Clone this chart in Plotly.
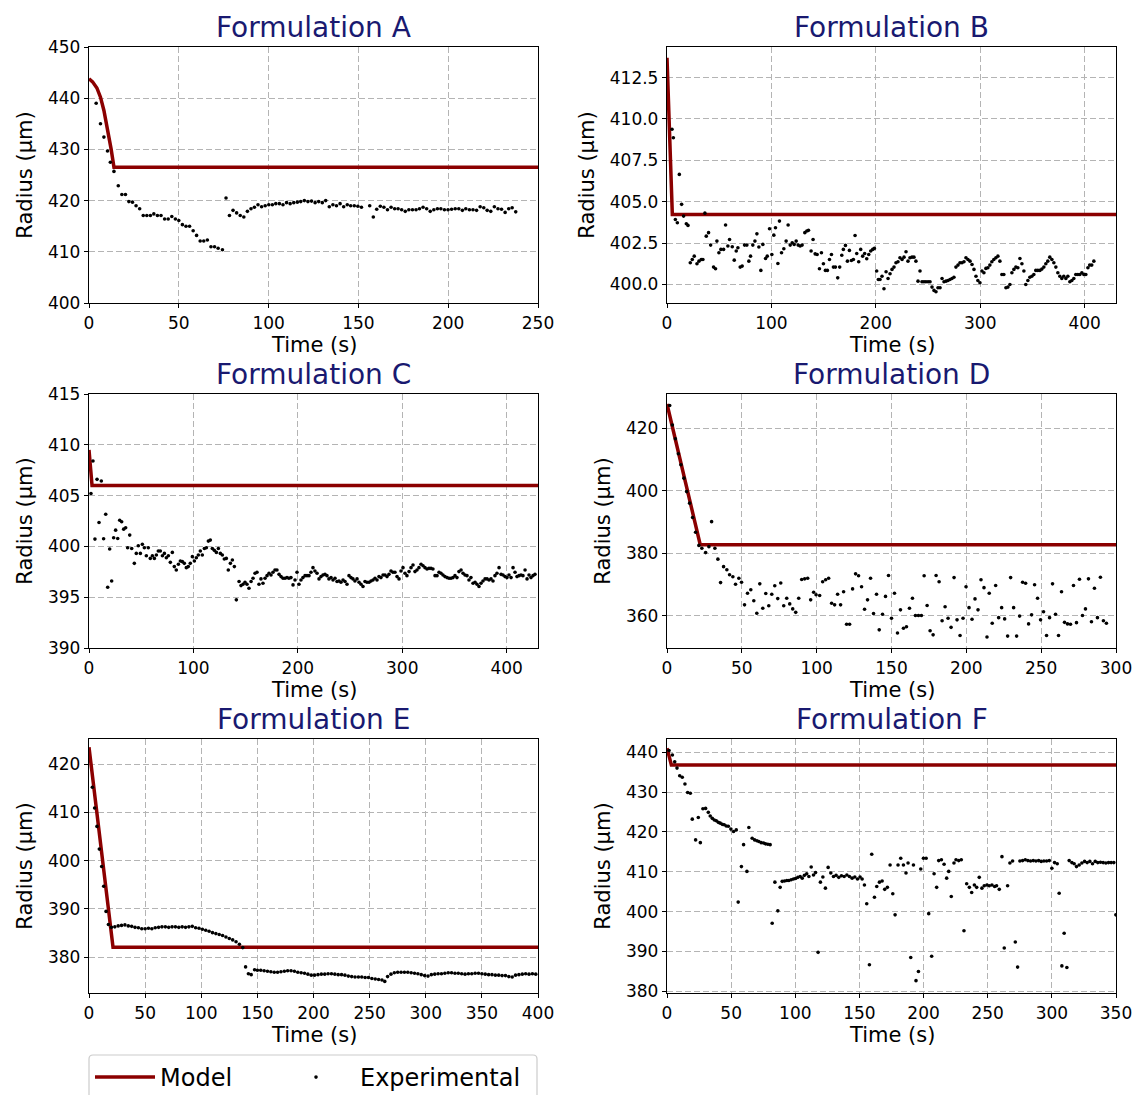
import plotly.graph_objects as go

# ---------------- data ----------------
A_time = [4.0, 6.4, 8.3, 10.3, 11.9, 13.9, 16.3, 18.3, 20.3, 22.2,
          24.2, 26.2, 28.2, 30.2, 32.2, 34.2, 36.1, 38.1, 40.1, 42.1,
          44.1, 46.1, 48.1, 50.0, 52.0, 54.0, 56.0, 58.0, 59.9, 61.9,
          63.9, 65.9, 67.9, 69.9, 71.9, 74.3, 76.3, 78.2, 80.2, 82.2,
          84.2, 86.2, 88.2, 90.2, 92.1, 94.1, 96.1, 98.1, 100.1, 102.1,
          104.0, 106.0, 108.0, 110.0, 112.0, 114.0, 116.0, 117.9, 119.9, 121.9,
          123.9, 125.9, 127.9, 129.9, 131.8, 133.8, 135.8, 137.8, 139.8, 141.8,
          143.8, 145.7, 147.7, 149.7, 151.7, 156.3, 158.3, 160.2, 162.2, 164.2,
          166.2, 168.2, 170.2, 172.1, 174.1, 176.1, 178.1, 180.1, 182.1, 184.0,
          186.0, 188.0, 190.0, 192.0, 194.0, 195.9, 197.9, 199.9, 201.9, 203.9,
          205.9, 207.9, 209.8, 211.8, 213.8, 215.8, 217.8, 219.8, 221.7, 223.7,
          225.7, 227.7, 229.7, 231.7, 233.7, 235.6, 237.6]
A_radius = [439.0, 435.0, 432.4, 429.7, 427.5, 425.7, 422.9, 421.2, 421.2, 419.8,
            419.7, 419.0, 418.4, 417.1, 417.1, 417.1, 417.4, 417.1, 417.1, 416.4,
            416.4, 416.9, 416.4, 416.1, 415.3, 415.0, 415.0, 414.1, 413.2, 412.1,
            412.1, 412.3, 411.0, 411.0, 410.7, 410.4, 420.5, 417.1, 418.1, 417.6,
            417.1, 416.8, 417.9, 418.4, 418.7, 419.2, 418.8, 419.0, 419.2, 419.2,
            419.4, 419.4, 419.2, 419.6, 419.4, 419.6, 419.7, 419.8, 420.0, 419.8,
            419.9, 419.6, 419.8, 419.6, 420.0, 418.8, 419.2, 419.0, 419.4, 418.8,
            419.2, 419.0, 419.0, 418.9, 418.7, 419.0, 416.8, 418.3, 418.9, 418.7,
            418.2, 418.7, 418.4, 418.4, 418.2, 417.9, 418.2, 418.2, 418.2, 418.4,
            418.7, 418.4, 417.9, 418.2, 418.4, 418.4, 418.2, 418.2, 418.3, 418.4,
            418.4, 418.1, 418.4, 418.2, 418.2, 418.1, 418.8, 418.6, 418.1, 417.9,
            418.8, 418.4, 418.3, 417.7, 418.4, 418.6, 417.8]
A_model_time = [0, 2.0, 4.4, 6.4, 8.3, 10.3, 12.3, 13.9, 250]
A_model_radius = [443.8, 443.2, 442.0, 440.2, 437.6, 434.0, 430.1, 426.5, 426.5]

B_time = [4.8, 6.1, 8.0, 9.9, 11.8, 14.0, 15.9, 18.5, 20.1, 22.3,
          24.2, 26.1, 28.7, 30.6, 32.8, 34.4, 36.3, 37.6, 39.8, 41.8,
          44.6, 46.5, 47.8, 49.7, 51.6, 54.2, 56.1, 58.3, 59.9, 62.5,
          64.4, 66.3, 67.9, 70.1, 72.0, 74.3, 76.5, 78.4, 80.0, 82.2,
          84.2, 86.1, 88.0, 89.9, 91.8, 94.4, 96.0, 98.2, 100.4, 102.3,
          103.9, 106.2, 107.7, 109.7, 111.9, 114.1, 116.0, 118.0, 119.9, 121.8,
          123.7, 125.6, 127.5, 129.4, 132.0, 133.9, 135.5, 138.0, 139.9, 141.9,
          143.8, 146.0, 147.9, 149.8, 151.7, 153.6, 155.6, 157.5, 159.4, 161.3,
          163.5, 165.4, 167.4, 168.9, 170.9, 172.8, 174.7, 176.6, 178.5, 180.1,
          181.7, 183.6, 185.5, 187.4, 189.3, 191.3, 193.2, 195.1, 197.0, 198.6,
          200.8, 202.4, 204.0, 205.9, 207.8, 209.8, 211.7, 213.6, 215.5, 217.4,
          219.3, 221.2, 223.1, 225.1, 227.0, 228.9, 230.8, 232.7, 234.6, 236.5,
          238.4, 240.4, 242.3, 244.2, 246.1, 248.0, 250.0, 251.9, 253.8, 255.7,
          257.6, 259.5, 261.5, 263.4, 265.3, 267.2, 269.1, 271.0, 272.9, 274.8,
          276.7, 278.7, 280.6, 282.5, 284.4, 286.3, 288.2, 290.2, 292.1, 294.0,
          295.9, 297.7, 299.7, 301.6, 303.5, 305.4, 307.3, 309.2, 311.1, 313.0,
          315.0, 316.9, 318.8, 320.7, 322.6, 324.6, 326.5, 328.4, 330.3, 332.2,
          334.1, 336.0, 338.0, 339.9, 341.8, 343.6, 345.6, 347.5, 349.4, 351.3,
          353.2, 355.1, 357.1, 359.0, 360.9, 362.8, 364.7, 366.6, 368.6, 370.5,
          372.4, 374.3, 376.2, 378.1, 380.0, 382.0, 383.9, 385.8, 387.7, 389.6,
          391.5, 393.5, 395.4, 397.3, 399.2, 401.1, 403.1, 404.8, 406.8, 408.8]
B_radius = [409.38, 408.87, 403.93, 403.73, 406.65, 404.84, 404.13, 403.67, 403.57, 401.31,
            401.51, 401.71, 401.25, 401.41, 401.51, 401.51, 404.31, 402.92, 403.13, 402.38,
            401.05, 400.95, 402.62, 401.92, 402.12, 402.12, 403.59, 402.32, 402.72, 402.28,
            401.47, 402.02, 402.22, 401.05, 401.11, 402.38, 402.38, 401.41, 401.71, 402.38,
            402.62, 403.06, 402.26, 400.85, 402.42, 401.57, 401.71, 403.37, 401.81, 402.98,
            403.43, 401.27, 403.83, 401.92, 402.16, 402.62, 403.59, 402.38, 402.52, 402.42,
            402.62, 402.38, 402.32, 402.38, 403.13, 403.23, 403.27, 402.02, 402.72, 401.85,
            401.81, 400.95, 401.92, 401.25, 400.85, 400.85, 401.51, 401.81, 401.05, 401.05,
            400.40, 401.05, 401.77, 402.12, 402.36, 401.41, 402.06, 401.45, 401.51, 402.96,
            401.87, 401.37, 402.12, 401.71, 401.87, 401.55, 401.81, 402.02, 402.12, 402.18,
            400.81, 400.30, 400.30, 400.50, 399.74, 400.77, 400.36, 400.65, 400.91, 401.05,
            401.31, 401.37, 401.61, 401.51, 401.65, 401.98, 401.41, 401.61, 401.65, 401.65,
            401.41, 400.20, 400.81, 400.16, 400.16, 400.16, 400.16, 400.16, 399.84, 399.64,
            399.56, 399.80, 399.80, 400.36, 400.16, 400.20, 400.24, 400.30, 400.36, 400.44,
            401.05, 401.17, 401.31, 401.31, 401.37, 401.61, 401.51, 401.41, 401.21, 400.91,
            400.50, 400.24, 400.10, 400.81, 400.71, 400.97, 401.01, 401.17, 401.37, 401.51,
            401.61, 401.71, 401.41, 400.60, 400.60, 399.80, 399.84, 400.00, 400.71, 400.91,
            401.05, 401.01, 401.57, 401.25, 400.81, 400.00, 400.24, 400.44, 400.50, 400.60,
            400.85, 400.85, 400.85, 400.93, 401.05, 401.25, 401.41, 401.65, 401.51, 401.31,
            401.05, 400.71, 400.50, 400.36, 400.50, 400.36, 400.50, 400.16, 400.24, 400.36,
            400.60, 400.60, 400.60, 400.71, 400.60, 400.60, 401.01, 401.17, 401.17, 401.41]
B_model_time = [0, 5.1, 430]
B_model_radius = [413.7, 404.23, 404.23]

C_time = [1.9, 3.8, 5.7, 7.7, 9.6, 11.8, 14.0, 16.0, 17.9, 19.8,
          21.7, 23.6, 25.5, 27.5, 29.4, 31.3, 33.2, 35.1, 37.0, 39.0,
          40.9, 43.4, 45.3, 47.2, 49.2, 51.1, 53.0, 54.9, 56.8, 58.7,
          60.7, 62.6, 64.5, 66.4, 68.3, 70.3, 72.2, 74.1, 76.0, 77.9,
          79.8, 81.7, 83.6, 85.6, 87.5, 89.4, 91.3, 93.2, 95.1, 97.0,
          99.0, 100.9, 102.8, 104.7, 106.6, 108.5, 110.5, 112.4, 114.3, 116.2,
          118.1, 120.0, 122.0, 123.9, 125.8, 127.7, 129.6, 131.5, 133.4, 135.4,
          137.3, 139.2, 141.1, 143.7, 145.6, 147.5, 149.4, 151.3, 153.2, 155.2,
          157.1, 159.0, 160.9, 162.8, 164.7, 166.6, 168.6, 170.5, 172.4, 174.3,
          176.2, 178.1, 180.0, 182.0, 183.9, 185.8, 187.7, 189.6, 191.5, 193.4,
          195.4, 197.3, 199.2, 201.1, 203.0, 204.9, 206.9, 208.8, 210.7, 212.6,
          214.5, 216.4, 218.4, 220.3, 222.2, 224.1, 226.0, 227.9, 229.8, 231.8,
          233.7, 235.6, 237.5, 239.4, 241.3, 243.3, 245.2, 247.1, 249.0, 250.9,
          252.8, 254.7, 256.7, 258.6, 260.5, 262.4, 264.3, 266.2, 268.2, 270.1,
          272.0, 273.9, 275.8, 277.7, 279.6, 281.6, 283.5, 285.4, 287.3, 289.2,
          291.1, 293.0, 295.0, 296.9, 298.8, 300.7, 302.6, 304.5, 306.5, 308.4,
          310.3, 312.2, 314.1, 316.0, 318.0, 319.9, 321.8, 323.7, 325.6, 327.5,
          329.4, 331.4, 333.3, 335.2, 337.1, 339.0, 340.9, 342.9, 344.8, 346.7,
          348.6, 350.5, 352.4, 354.3, 356.3, 358.2, 360.1, 362.0, 363.9, 365.8,
          367.8, 369.7, 371.6, 373.5, 375.4, 377.3, 379.3, 381.2, 383.1, 385.0,
          386.9, 388.8, 390.7, 392.7, 394.6, 396.5, 398.4, 400.3, 402.2, 404.2,
          406.1, 408.0, 409.9, 411.8, 413.7, 415.6, 417.6, 419.5, 421.4, 423.3,
          425.2, 427.1]
C_radius = [405.2, 408.4, 400.72, 406.6, 402.35, 406.44, 400.75, 403.17, 395.98, 399.74,
            396.6, 400.85, 401.6, 400.78, 402.58, 402.42, 401.7, 401.83, 399.87, 401.11,
            399.8, 398.33, 399.31, 400.07, 399.31, 400.2, 399.87, 399.08, 399.87, 398.82,
            399.08, 398.82, 399.15, 399.54, 399.54, 399.08, 399.31, 398.89, 399.08, 398.43,
            399.41, 398.01, 397.68, 398.24, 398.56, 398.5, 398.33, 397.91, 398.01, 398.33,
            398.99, 398.56, 398.89, 399.15, 399.54, 399.15, 399.8, 399.87, 400.52, 400.62,
            399.8, 399.61, 399.41, 399.8, 399.31, 399.15, 398.76, 398.82, 397.68, 398.33,
            398.66, 398.01, 394.74, 396.54, 396.14, 396.27, 396.47, 396.27, 395.88, 396.54,
            396.86, 397.35, 397.45, 396.27, 396.8, 396.37, 396.86, 397.12, 397.35, 397.19,
            397.45, 397.68, 397.68, 397.25, 397.03, 396.86, 396.86, 396.93, 396.86, 396.93,
            396.21, 396.7, 397.45, 396.27, 396.7, 396.93, 397.12, 397.12, 397.12, 397.45,
            397.91, 397.58, 397.35, 396.8, 397.03, 397.19, 397.25, 397.12, 396.8, 396.93,
            396.7, 396.86, 396.54, 396.6, 396.47, 396.7, 396.54, 396.27, 397.12, 396.93,
            396.8, 396.6, 396.8, 396.47, 396.27, 396.05, 396.54, 396.47, 396.47, 396.6,
            396.7, 396.86, 396.7, 397.03, 396.93, 397.19, 397.19, 397.03, 397.25, 397.58,
            397.45, 397.45, 397.03, 396.8, 397.58, 397.91, 397.35, 397.12, 397.52, 397.91,
            398.17, 397.52, 397.68, 397.91, 398.24, 398.1, 397.91, 397.78, 397.84, 397.84,
            397.78, 397.12, 397.12, 397.45, 397.35, 397.19, 397.03, 396.93, 396.86, 396.86,
            396.93, 397.12, 396.93, 397.52, 397.68, 397.35, 397.19, 397.12, 396.7, 396.93,
            396.37, 396.47, 396.27, 396.05, 396.37, 396.6, 396.8, 396.8, 396.7, 396.8,
            396.6, 397.12, 397.35, 397.91, 397.25, 397.19, 397.03, 396.93, 397.19, 396.93,
            397.91, 397.45, 397.03, 397.12, 397.19, 397.12, 397.68, 396.8, 397.19, 396.93,
            397.12, 397.25]
C_model_time = [0, 2.9, 430]
C_model_radius = [409.5, 406.0, 406.0]

D_time = [1.8, 3.6, 5.6, 7.6, 9.3, 11.3, 13.1, 15.1, 17.1, 19.1,
          21.3, 23.3, 25.8, 28.0, 29.8, 32.0, 34.0, 35.8, 37.8, 40.0,
          41.8, 44.0, 45.8, 48.0, 49.8, 51.8, 53.8, 56.0, 58.0, 60.0,
          62.0, 64.0, 66.0, 68.0, 70.0, 72.0, 74.0, 76.0, 78.0, 80.0,
          82.0, 84.0, 86.0, 88.0, 90.0, 92.0, 94.0, 96.0, 98.0, 99.6,
          102.0, 104.0, 106.0, 108.0, 110.0, 112.0, 114.0, 116.0, 118.0, 120.0,
          122.0, 124.0, 126.0, 128.0, 130.0, 132.0, 134.0, 136.0, 138.0, 140.0,
          141.8, 144.0, 146.0, 148.0, 150.0, 152.0, 154.0, 156.0, 158.0, 160.0,
          162.0, 164.0, 166.0, 168.0, 170.0, 171.8, 173.8, 175.8, 177.8, 179.8,
          181.8, 183.8, 185.8, 187.8, 189.8, 191.8, 193.8, 195.8, 197.8, 199.8,
          201.8, 203.8, 205.8, 207.8, 209.8, 211.8, 213.8, 215.3, 217.3, 219.6,
          221.6, 223.6, 225.6, 227.6, 229.6, 231.6, 233.6, 235.6, 237.6, 239.6,
          241.6, 243.6, 245.6, 247.6, 249.6, 251.6, 253.6, 255.6, 257.6, 259.6,
          261.6, 263.6, 265.6, 267.6, 269.6, 271.6, 273.6, 275.6, 277.6, 279.6,
          281.6, 283.6, 285.6, 287.6, 289.6, 291.6, 293.6]
D_radius = [427.2, 421.0, 416.6, 411.8, 408.3, 404.0, 399.7, 396.0, 391.4, 386.7,
            382.5, 381.6, 380.2, 382.1, 390.1, 381.6, 378.1, 370.6, 375.7, 374.7,
            373.1, 372.5, 370.1, 372.0, 370.7, 363.5, 367.2, 368.3, 364.8, 360.8,
            370.2, 362.4, 367.1, 363.2, 366.9, 369.6, 365.5, 370.5, 363.2, 365.6,
            363.8, 362.2, 361.1, 365.6, 371.6, 371.8, 372.0, 365.1, 367.5, 366.7,
            366.5, 370.9, 371.5, 372.0, 364.0, 363.5, 366.9, 363.5, 367.7, 357.3,
            357.3, 368.6, 373.4, 372.8, 369.3, 362.1, 365.1, 372.0, 360.7, 366.9,
            355.5, 360.5, 366.2, 372.9, 359.2, 367.2, 354.5, 361.9, 356.0, 356.5,
            362.4, 365.6, 360.1, 360.1, 360.1, 372.8, 363.3, 355.2, 353.9, 372.9,
            370.9, 358.4, 362.9, 359.2, 356.3, 372.2, 358.7, 353.7, 359.2, 369.3,
            362.6, 358.9, 365.4, 361.9, 371.5, 369.0, 353.2, 367.2, 357.6, 369.7,
            359.4, 362.6, 359.0, 353.5, 372.2, 362.6, 353.5, 359.9, 370.7, 370.4,
            357.4, 360.3, 369.9, 365.6, 358.7, 361.3, 353.7, 359.4, 370.2, 360.5,
            353.7, 367.7, 357.9, 357.4, 357.3, 369.7, 357.8, 371.7, 360.1, 362.2,
            371.8, 358.1, 368.8, 359.4, 372.3, 358.4, 357.6]
D_model_time = [0, 22.2, 300]
D_model_radius = [427.7, 382.7, 382.7]

E_time = [3.0, 5.0, 7.1, 9.2, 11.3, 13.1, 15.2, 17.3, 20.0, 23.0,
          26, 29, 32, 35, 38, 41, 44, 47, 50, 53,
          56, 59, 62, 65, 68, 71, 74, 77, 80, 83,
          86, 89, 92, 95, 98, 101, 104, 107, 110, 113,
          116, 119, 122, 125, 128, 131, 134, 137, 139.5, 142,
          144.5, 147.5, 150, 153, 156, 159, 162, 165, 168, 171,
          174, 177, 180, 183, 186, 189, 192, 195, 198, 201,
          204, 207, 210, 213, 216, 219, 222, 225, 228, 231,
          234, 237, 240, 243, 246, 249, 252, 255, 258, 261,
          263.5, 266, 269, 272, 275, 278, 281, 284, 287, 290,
          293, 296, 299, 302, 305, 308, 311, 314, 317, 320,
          323, 326, 329, 332, 335, 338, 341, 344, 347, 350,
          353, 356, 359, 362, 365, 368, 371, 374, 377, 380,
          383, 386, 389, 392, 395, 398]
E_radius = [415.2, 410.9, 407.1, 402.4, 398.8, 394.7, 389.5, 386.8, 386.2, 386.3,
            386.5, 386.6, 386.7, 386.5, 386.4, 386.2, 386.1, 385.9, 385.9, 386.0,
            385.9, 386.1, 386.2, 386.3, 386.3, 386.2, 386.3, 386.3, 386.2, 386.3,
            386.2, 386.3, 386.4, 386.1, 386.0, 385.8, 385.6, 385.4, 385.1, 384.9,
            384.7, 384.5, 384.2, 383.9, 383.6, 383.2, 382.7, 382.0, 378.0, 376.6,
            376.4, 377.4, 377.3, 377.3, 377.2, 377.1, 377.0, 376.9, 376.9, 377.0,
            377.1, 377.2, 377.2, 377.1, 376.9, 376.8, 376.7, 376.5, 376.3, 376.3,
            376.4, 376.5, 376.5, 376.6, 376.6, 376.5, 376.4, 376.4, 376.3, 376.1,
            376.0, 375.9, 375.9, 375.9, 375.8, 375.8, 375.6, 375.5, 375.4, 375.3,
            375.0, 376.0, 376.5, 376.8, 376.9, 376.9, 376.9, 376.9, 376.8, 376.7,
            376.6, 376.4, 376.2, 376.1, 376.4, 376.5, 376.6, 376.6, 376.7, 376.8,
            376.8, 376.7, 376.7, 376.6, 376.5, 376.6, 376.6, 376.7, 376.7, 376.6,
            376.5, 376.4, 376.4, 376.3, 376.3, 376.2, 376.2, 376.0, 375.9, 376.3,
            376.4, 376.5, 376.6, 376.5, 376.6, 376.5]
E_model_time = [0, 21.4, 400]
E_model_radius = [423.5, 382.1, 382.1]

F_time = [1.6, 4.2, 6.0, 7.8, 9.9, 11.9, 14.0, 16.1, 18.2, 19.7,
          22.3, 24.4, 26.0, 28.0, 30.1, 32.2, 33.7, 35.3, 36.9, 38.4,
          40.0, 41.5, 43.1, 44.6, 46.2, 47.8, 49.8, 51.9, 54.0,
          55.5, 58.0, 59.7, 62.3, 63.8, 66.4, 68.3, 70.1, 71.6, 73.4,
          75.3, 76.8, 78.6, 80.4, 82.0, 84.1, 86.4, 88.2, 89.8, 91.6,
          93.4, 95.0, 96.8, 98.6, 100.2, 102.0, 103.8, 105.4, 107.1, 108.9,
          110.6, 112.4, 114.2, 115.8, 117.8, 119.6, 121.5, 123.5, 125.6, 127.7,
          129.8, 131.8, 133.9, 136.0, 138.1, 140.2, 142.2, 144.3, 146.4, 148.5,
          150.5, 152.1, 153.9, 155.7, 157.8, 159.6, 161.7, 163.5, 165.6, 167.7,
          169.7, 171.8, 173.9, 176.0, 177.8, 180.1, 182.2, 184.3, 186.3, 187.9,
          190.0, 192.1, 194.1, 196.0, 197.8, 199.9, 202.0, 204.0, 206.3, 208.2,
          210.2, 211.8, 213.9, 216.0, 218.0, 219.6, 221.6, 223.7, 225.3, 227.4,
          229.4, 231.5, 233.6, 235.7, 237.5, 239.6, 241.4, 243.4, 245.5, 247.3,
          249.4, 251.2, 253.3, 255.4, 256.9, 259.0, 261.1, 262.9, 265.5, 267.3,
          269.4, 271.5, 273.3, 275.1, 277.2, 279.3, 281.3, 283.4, 285.5, 287.6,
          289.7, 291.7, 293.8, 295.9, 298.0, 300.0, 302.1, 304.2, 305.7, 307.8,
          309.6, 311.7, 313.5, 315.6, 317.4, 319.2, 321.3, 323.4, 325.5, 327.5,
          329.6, 331.7, 333.8, 335.8, 337.9, 340.0, 342.1, 344.2, 346.2, 348.3,
          349.9]
F_radius = [440.4, 439.3, 437.6, 436.0, 434.1, 433.7, 432.0, 429.9, 429.7, 423.2,
            418.0, 423.6, 417.3, 425.8, 425.9, 424.9, 424.0, 423.4, 423.0, 422.8,
            422.4, 422.2, 421.9, 421.8, 421.5, 421.4, 420.7, 420.1, 420.5,
            402.4, 411.3, 416.8, 410.1, 421.1, 418.4, 418.0, 417.8, 417.6, 417.3,
            417.2, 417.0, 416.9, 416.8, 397.1, 407.4, 400.2, 406.1, 407.6, 407.7,
            407.8, 407.8, 408.0, 408.2, 408.3, 408.6, 408.8, 408.4, 409.1, 409.5,
            408.8, 411.2, 409.2, 409.8, 389.8, 407.4, 408.7, 405.9, 411.1, 409.7,
            408.8, 409.1, 408.6, 409.0, 408.8, 409.2, 408.8, 408.4, 408.7, 408.2,
            408.7, 408.2, 406.7, 402.0, 386.7, 414.4, 403.6, 406.3, 407.4, 407.7,
            405.6, 406.1, 411.7, 404.5, 399.2, 411.7, 413.4, 411.7, 409.7, 412.2,
            388.5, 411.7, 382.7, 385.0, 410.7, 413.4, 413.4, 399.5, 388.8, 409.5,
            406.1, 412.8, 413.0, 411.9, 408.4, 410.1, 403.8, 412.2, 413.0, 412.8,
            413.0, 395.2, 407.0, 406.1, 404.8, 406.7, 406.1, 408.6, 405.9, 406.5,
            406.7, 406.5, 406.7, 406.3, 406.5, 405.6, 413.8, 390.9, 406.5, 412.2,
            412.7, 392.4, 386.1, 412.7, 412.8, 413.0, 412.8, 412.7, 412.8, 412.7,
            412.8, 412.6, 412.7, 412.7, 412.8, 410.9, 412.3, 412.0, 404.6, 386.4,
            394.6, 386.0, 412.8, 412.3, 412.0, 411.3, 411.7, 412.2, 412.6, 412.3,
            412.6, 412.0, 412.6, 412.3, 412.4, 412.3, 412.2, 412.3, 412.3, 412.3,
            399.2]
F_model_time = [0, 3.4, 350]
F_model_radius = [441.0, 436.8, 436.8]

panel_titles = ["Formulation A", "Formulation B", "Formulation C",
                "Formulation D", "Formulation E", "Formulation F"]
x_ranges = [[0, 250], [0, 430], [0, 430], [0, 300], [0, 400], [0, 350]]
x_ticks = [[0, 50, 100, 150, 200, 250], [0, 100, 200, 300, 400],
           [0, 100, 200, 300, 400], [0, 50, 100, 150, 200, 250, 300],
           [0, 50, 100, 150, 200, 250, 300, 350, 400],
           [0, 50, 100, 150, 200, 250, 300, 350]]
y_ranges = [[400, 450], [398.88, 414.35], [390, 415], [349.7, 430.9],
            [372.6, 425.2], [379.6, 443.3]]
y_ticks = [[400, 410, 420, 430, 440, 450],
           [400.0, 402.5, 405.0, 407.5, 410.0, 412.5],
           [390, 395, 400, 405, 410, 415],
           [360, 380, 400, 420],
           [380, 390, 400, 410, 420],
           [380, 390, 400, 410, 420, 430, 440]]
y_tickformats = ["d", ".1f", "d", "d", "d", "d"]

exp_series = [(A_time, A_radius), (B_time, B_radius), (C_time, C_radius),
              (D_time, D_radius), (E_time, E_radius), (F_time, F_radius)]
model_series = [(A_model_time, A_model_radius), (B_model_time, B_model_radius),
                (C_model_time, C_model_radius), (D_model_time, D_model_radius),
                (E_model_time, E_model_radius), (F_model_time, F_model_radius)]

for name, (t, r) in zip("ABCDEF", exp_series):
    assert len(t) == len(r), (name, len(t), len(r))

# ---------------- layout ----------------
W, H = 1133, 1095
FONT = "DejaVu Sans"
# plot-area boxes in pixels: (left, right, top, bottom)
boxes = [(89, 538, 47, 303), (667, 1116, 47, 303),
         (89, 538, 394, 648), (667, 1116, 394, 648),
         (89, 538, 739, 993), (667, 1116, 739, 993)]

MODEL_COLOR = "#8b0000"
TITLE_COLOR = "#191970"


def px(x):
    return x / W


def py(y):
    return 1 - y / H


fig = go.Figure()
legend_common = dict(
    orientation="h", yanchor="top", xanchor="left", y=py(1055),
    font=dict(family=FONT, size=24, color="black"),
    bgcolor="rgba(0,0,0,0)", borderwidth=0,
)
layout = dict(
    width=W, height=H,
    margin=dict(l=0, r=0, t=0, b=0, autoexpand=False),
    paper_bgcolor="white", plot_bgcolor="white",
    font=dict(family=FONT, size=17, color="black"),
    showlegend=True,
    legend=dict(legend_common, x=px(90), itemwidth=60),
    legend2=dict(legend_common, x=px(272), itemwidth=78),
    annotations=[],
)

for i in range(6):
    k = i + 1
    sfx = "" if k == 1 else str(k)
    L, R, T, B = boxes[i]
    fig.add_trace(go.Scatter(
        x=model_series[i][0], y=model_series[i][1], mode="lines",
        line=dict(color=MODEL_COLOR, width=3.5),
        name="Model", showlegend=(i == 0), legend="legend",
        xaxis="x" + sfx, yaxis="y" + sfx))
    fig.add_trace(go.Scatter(
        x=exp_series[i][0], y=exp_series[i][1], mode="markers",
        marker=dict(color="black", size=3.6),
        name="Experimental", showlegend=(i == 0), legend="legend2",
        xaxis="x" + sfx, yaxis="y" + sfx))

    common = dict(
        showline=True, mirror=True, linecolor="black", linewidth=1.3,
        ticks="outside", ticklen=4, tickwidth=1.2, tickcolor="black",
        showgrid=True, gridcolor="#b4b4b4", gridwidth=1, griddash="6px,3px",
        zeroline=False, tickfont=dict(family=FONT, size=17, color="black"),
        ticklabeloverflow="allow",
    )
    layout["xaxis" + sfx] = dict(
        common, domain=[px(L), px(R)], anchor="y" + sfx,
        range=x_ranges[i], tickvals=x_ticks[i],
    )
    layout["yaxis" + sfx] = dict(
        common, domain=[py(B), py(T)], anchor="x" + sfx,
        range=y_ranges[i], tickvals=y_ticks[i], tickformat=y_tickformats[i],
        title=dict(text="Radius (µm)", font=dict(family=FONT, size=21), standoff=9),
    )
    # panel title
    layout["annotations"].append(dict(
        text=panel_titles[i], xref="paper", yref="paper",
        x=px((L + R) / 2), y=py(T - 20), xanchor="center", yanchor="middle",
        showarrow=False, font=dict(family=FONT, size=28, color=TITLE_COLOR)))
    # x-axis title
    layout["annotations"].append(dict(
        text="Time (s)", xref="paper", yref="paper",
        x=px((L + R) / 2), y=py(B + 42), xanchor="center", yanchor="middle",
        showarrow=False, font=dict(family=FONT, size=21, color="black")))

# legend frame (matplotlib-style rounded box, bottom runs off the canvas)
lx0, lx1, ly0, ly1, rad = 89, 537, 1055, 1102, 4
frame_path = (f"M {px(lx0)},{py(ly1)} L {px(lx0)},{py(ly0 + rad)} "
              f"Q {px(lx0)},{py(ly0)} {px(lx0 + rad)},{py(ly0)} "
              f"L {px(lx1 - rad)},{py(ly0)} "
              f"Q {px(lx1)},{py(ly0)} {px(lx1)},{py(ly0 + rad)} "
              f"L {px(lx1)},{py(ly1)}")
layout["shapes"] = [dict(type="path", xref="paper", yref="paper", path=frame_path,
                         line=dict(color="#cccccc", width=1.2))]

fig.update_layout(**layout)
fig.write_html("out.html")
